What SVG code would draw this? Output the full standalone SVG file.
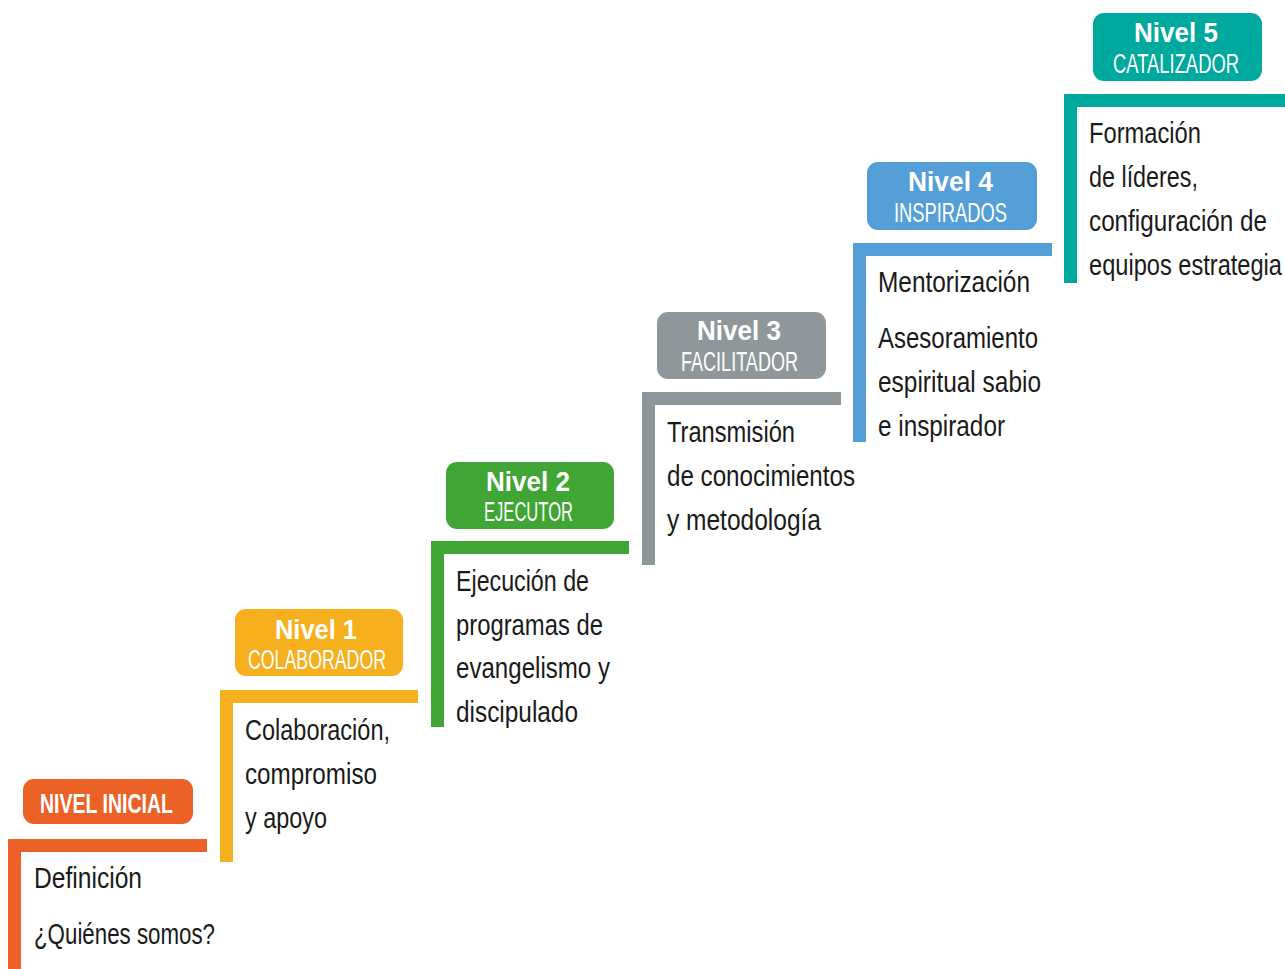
<svg xmlns="http://www.w3.org/2000/svg" width="1285" height="969" viewBox="0 0 1285 969">
<style>
.t{font-family:"Liberation Sans",Arial,sans-serif;font-size:30px;fill:#1a1a1a}
.h{font-family:"Liberation Sans",Arial,sans-serif;font-size:28px;font-weight:bold;fill:#fff}
.s{font-family:"Liberation Sans",Arial,sans-serif;font-size:27px;fill:#fff}
</style>
<rect width="1285" height="969" fill="#fff"/>
<g id="connectors">
<path d="M8 839H207V852H21V969H8Z" fill="#EB6126"/>
<path d="M220 690H418V703H233V862H220Z" fill="#F6B01E"/>
<path d="M431 541H629V554H444V727H431Z" fill="#3FA535"/>
<path d="M642 392H841V405H655V565H642Z" fill="#8F979B"/>
<path d="M853 243H1052V256H866V442H853Z" fill="#549FD8"/>
<path d="M1064 94H1285V107H1077V283H1064Z" fill="#00A99D"/>
</g>
<g id="nivel-inicial">
<rect x="23" y="779" width="170" height="45" rx="11" fill="#EB6126"/>
<text class="h" x="40" y="813" textLength="133" lengthAdjust="spacingAndGlyphs">NIVEL INICIAL</text>
<text class="t" x="34" y="888" textLength="108" lengthAdjust="spacingAndGlyphs">Definición</text>
<text class="t" x="34" y="944" textLength="181" lengthAdjust="spacingAndGlyphs">¿Quiénes somos?</text>
</g>
<g id="nivel-1">
<rect x="235" y="609" width="168" height="67" rx="11" fill="#F6B01E"/>
<text class="h" x="275" y="639" textLength="82" lengthAdjust="spacingAndGlyphs">Nivel 1</text>
<text class="s" x="248" y="669" textLength="138" lengthAdjust="spacingAndGlyphs">COLABORADOR</text>
<text class="t" x="245" y="740" textLength="145" lengthAdjust="spacingAndGlyphs">Colaboración,</text>
<text class="t" x="245" y="784" textLength="132" lengthAdjust="spacingAndGlyphs">compromiso</text>
<text class="t" x="245" y="828" textLength="82" lengthAdjust="spacingAndGlyphs">y apoyo</text>
</g>
<g id="nivel-2">
<rect x="446" y="462" width="168" height="67" rx="11" fill="#3FA535"/>
<text class="h" x="486" y="491" textLength="84" lengthAdjust="spacingAndGlyphs">Nivel 2</text>
<text class="s" x="484" y="521" textLength="89" lengthAdjust="spacingAndGlyphs">EJECUTOR</text>
<text class="t" x="456" y="591" textLength="133" lengthAdjust="spacingAndGlyphs">Ejecución de</text>
<text class="t" x="456" y="635" textLength="147" lengthAdjust="spacingAndGlyphs">programas de</text>
<text class="t" x="456" y="678" textLength="154" lengthAdjust="spacingAndGlyphs">evangelismo y</text>
<text class="t" x="456" y="722" textLength="122" lengthAdjust="spacingAndGlyphs">discipulado</text>
</g>
<g id="nivel-3">
<rect x="657" y="312" width="169" height="67" rx="11" fill="#8F979B"/>
<text class="h" x="697" y="340" textLength="84" lengthAdjust="spacingAndGlyphs">Nivel 3</text>
<text class="s" x="681" y="371" textLength="117" lengthAdjust="spacingAndGlyphs">FACILITADOR</text>
<text class="t" x="667" y="442" textLength="128" lengthAdjust="spacingAndGlyphs">Transmisión</text>
<text class="t" x="667" y="486" textLength="188" lengthAdjust="spacingAndGlyphs">de conocimientos</text>
<text class="t" x="667" y="530" textLength="154" lengthAdjust="spacingAndGlyphs">y metodología</text>
</g>
<g id="nivel-4">
<rect x="867" y="162" width="170" height="68" rx="11" fill="#549FD8"/>
<text class="h" x="908" y="191" textLength="85" lengthAdjust="spacingAndGlyphs">Nivel 4</text>
<text class="s" x="894" y="222" textLength="113" lengthAdjust="spacingAndGlyphs">INSPIRADOS</text>
<text class="t" x="878" y="292" textLength="152" lengthAdjust="spacingAndGlyphs">Mentorización</text>
<text class="t" x="878" y="348" textLength="160" lengthAdjust="spacingAndGlyphs">Asesoramiento</text>
<text class="t" x="878" y="392" textLength="163" lengthAdjust="spacingAndGlyphs">espiritual sabio</text>
<text class="t" x="878" y="436" textLength="127" lengthAdjust="spacingAndGlyphs">e inspirador</text>
</g>
<g id="nivel-5">
<rect x="1093" y="13" width="169" height="68" rx="11" fill="#00A99D"/>
<text class="h" x="1134" y="42" textLength="84" lengthAdjust="spacingAndGlyphs">Nivel 5</text>
<text class="s" x="1113" y="73" textLength="126" lengthAdjust="spacingAndGlyphs">CATALIZADOR</text>
<text class="t" x="1089" y="143" textLength="112" lengthAdjust="spacingAndGlyphs">Formación</text>
<text class="t" x="1089" y="187" textLength="109" lengthAdjust="spacingAndGlyphs">de líderes,</text>
<text class="t" x="1089" y="231" textLength="178" lengthAdjust="spacingAndGlyphs">configuración de</text>
<text class="t" x="1089" y="275" textLength="193" lengthAdjust="spacingAndGlyphs">equipos estrategia</text>
</g>
</svg>
